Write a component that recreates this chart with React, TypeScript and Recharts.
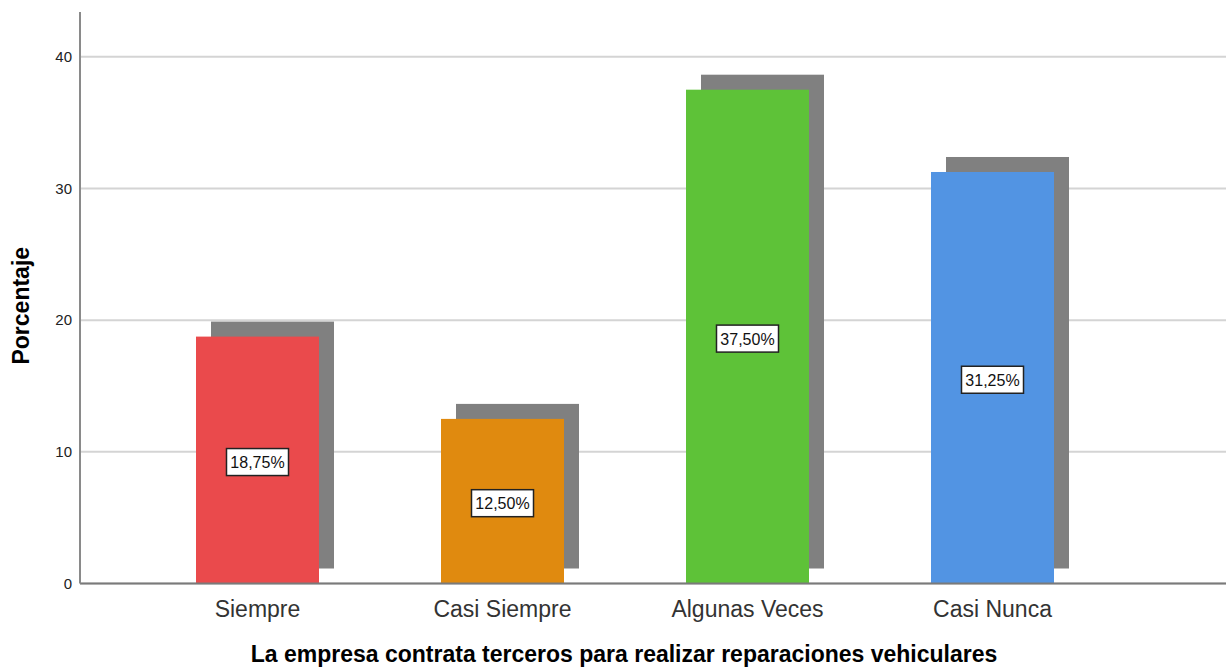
import React from "react";
import { BarChart, Bar, XAxis, YAxis, CartesianGrid, Cell } from "recharts";

const CATEGORIES = ["Siempre", "Casi Siempre", "Algunas Veces", "Casi Nunca"];
const PERCENTAGES = [18.75, 12.5, 37.5, 31.25];
const Y_TICKS = [0, 10, 20, 30, 40];
const BAR_COLORS = ["#ea4a4c", "#e08a0f", "#5ec238", "#5294e3"];

const X_TITLE = "La empresa contrata terceros para realizar reparaciones vehiculares";
const Y_TITLE = "Porcentaje";

const FONT = "'Liberation Sans', Arial, sans-serif";
const SHADOW = 15;

const data = CATEGORIES.map((name, i) => ({ name, value: PERCENTAGES[i] }));

const fmt = (v: number) => v.toFixed(2).replace(".", ",") + "%";

// bar with a grey drop shadow behind it and a boxed value label in the middle
const ShadowBar = (props: any) => {
  const { x, y, width, height, fill, value } = props;
  const cx = x + width / 2;
  const cy = y + height / 2 + 2;
  return (
    <g>
      <rect x={x + SHADOW} y={y - SHADOW} width={width} height={height} fill="#808080" />
      <rect x={x} y={y} width={width} height={height} fill={fill} />
      <rect x={cx - 31} y={cy - 13.5} width={62} height={27} fill="#fff" stroke="#222" strokeWidth={1.5} />
      <text
        x={cx}
        y={cy + 6}
        textAnchor="middle"
        fontSize={16}
        fontFamily={FONT}
        fill="#111"
      >
        {fmt(Array.isArray(value) ? value[1] : value)}
      </text>
    </g>
  );
};

const XTick = (props: any) => {
  const { x, y, payload } = props;
  return (
    <text x={x} y={y + 33.5} textAnchor="middle" fontSize={23} fontFamily={FONT} fill="#333">
      {payload.value}
    </text>
  );
};

const XTitle = (props: any) => {
  const { viewBox } = props;
  return (
    <text
      x={viewBox.x + viewBox.width / 2 - 29}
      y={viewBox.y + 78.5}
      textAnchor="middle"
      fontSize={23}
      fontWeight="bold"
      fontFamily={FONT}
      fill="#000"
    >
      {X_TITLE}
    </text>
  );
};

const YTitle = (props: any) => {
  const { viewBox } = props;
  const x = viewBox.x + 28.5;
  const y = viewBox.y + viewBox.height / 2 + 8;
  return (
    <text
      x={x}
      y={y}
      transform={`rotate(-90 ${x} ${y})`}
      textAnchor="middle"
      fontSize={23}
      fontWeight="bold"
      fontFamily={FONT}
      fill="#000"
    >
      {Y_TITLE}
    </text>
  );
};

export default function App() {
  return (
    <div style={{ position: "absolute", left: 0, top: 0, background: "#fff" }}>
      <BarChart
        width={1226}
        height={669}
        data={data}
        margin={{ top: 12, right: 0, bottom: 0, left: 0 }}
      >
        <CartesianGrid
          vertical={false}
          horizontalValues={Y_TICKS}
          stroke="#d4d4d4"
          strokeWidth={2}
        />
        <XAxis
          dataKey="name"
          interval={0}
          height={85.5}
          padding={{ left: 55, right: 111 }}
          tickLine={false}
          tickSize={0}
          tickMargin={0}
          axisLine={{ stroke: "#7a7a7a", strokeWidth: 2 }}
          tick={<XTick />}
          label={<XTitle />}
        />
        <YAxis
          width={80}
          domain={[0, 43.4]}
          ticks={Y_TICKS}
          tickLine={false}
          tickSize={0}
          tickMargin={8}
          axisLine={{ stroke: "#8a8a8a", strokeWidth: 2 }}
          tick={{ fontSize: 15, fontFamily: FONT, fill: "#222" }}
          label={<YTitle />}
        />
        <Bar dataKey="value" barSize={123} shape={<ShadowBar />} isAnimationActive={false}>
          {data.map((d, i) => (
            <Cell key={d.name} fill={BAR_COLORS[i]} />
          ))}
        </Bar>
      </BarChart>
    </div>
  );
}
